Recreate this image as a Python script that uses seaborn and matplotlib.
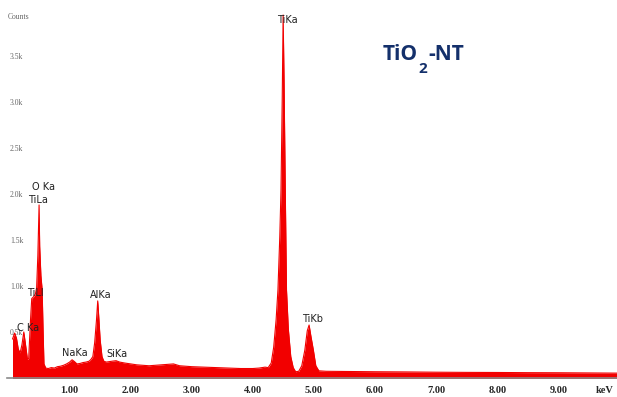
import matplotlib
matplotlib.use("Agg")
import matplotlib.pyplot as plt
import seaborn as sns
import pandas as pd

# EDS spectrum (keV, counts)
energy = [0.065, 0.10, 0.13, 0.16, 0.19, 0.22, 0.25, 0.28, 0.31, 0.33, 0.36, 0.38,
          0.41, 0.44, 0.46, 0.48, 0.50, 0.51, 0.53, 0.55, 0.565, 0.58, 0.61,
          0.65, 0.70, 0.75, 0.80, 0.85, 0.90, 0.95, 1.00, 1.04, 1.08, 1.12, 1.17,
          1.22, 1.27, 1.32, 1.35, 1.38, 1.41, 1.44, 1.46, 1.48, 1.50, 1.53, 1.56,
          1.60, 1.65, 1.70, 1.76, 1.82, 1.90, 2.00, 2.10, 2.20, 2.30, 2.40, 2.50,
          2.60, 2.70, 2.80, 2.90, 3.00, 3.20, 3.40, 3.60, 3.80, 4.00, 4.10, 4.20,
          4.25, 4.30, 4.34, 4.38, 4.41, 4.44, 4.46, 4.48, 4.495, 4.51, 4.53, 4.55,
          4.58, 4.62, 4.66, 4.70, 4.75, 4.80, 4.85, 4.89, 4.92, 4.95, 4.99, 5.03,
          5.08, 5.20, 5.50, 6.00, 6.50, 7.00, 7.50, 8.00, 8.50, 9.00, 9.50, 9.96]
counts = [390, 456, 400, 280, 240, 330, 467, 320, 170, 180, 600, 830,
          850, 880, 950, 1300, 1848, 1400, 1080, 930, 500, 120, 75,
          70, 80, 75, 90, 95, 105, 120, 140, 165, 145, 120, 125,
          135, 140, 150, 170, 200, 350, 600, 805, 600, 380, 200, 150,
          140, 145, 150, 155, 140, 130, 120, 110, 105, 100, 105, 110,
          115, 120, 100, 95, 90, 85, 80, 75, 70, 70, 75, 85,
          80, 130, 300, 600, 925, 1500, 2010, 3000, 3913, 3200, 2010, 925,
          500, 200, 80, 35, 40, 100, 270, 480, 543, 420, 270, 100,
          45, 40, 38, 35, 33, 30, 28, 27, 25, 24, 22, 20]

peak_names = ["O Ka", "TiLa", "TiLl", "C Ka", "NaKa", "AlKa", "SiKa", "TiKa", "TiKb"]
peak_x = [0.565, 0.483, 0.434, 0.319, 1.088, 1.514, 1.776, 4.558, 4.984]
peak_y = [2043, 1902, 891, 511, 239, 870, 228, 3859, 609]

y_ticks = [500, 1000, 1500, 2000, 2500, 3000, 3500]
y_labels = ["0.5k", "1.0k", "1.5k", "2.0k", "2.5k", "3.0k", "3.5k"]
x_ticks = [1, 2, 3, 4, 5, 6, 7, 8, 9]
x_labels = ["1.00", "2.00", "3.00", "4.00", "5.00", "6.00", "7.00", "8.00", "9.00"]

df = pd.DataFrame({"energy": energy, "counts": counts})

sns.set_style("white")
plt.rcParams["font.family"] = ["DejaVu Sans"]

fig = plt.figure(figsize=(6.17, 3.97), dpi=100)
ax = fig.add_axes([7 / 617, 19 / 397, 610 / 617, 378 / 397])

red = "#f20000"
sns.lineplot(data=df, x="energy", y="counts", color=red, lw=0.8, ax=ax)
ax.fill_between(df["energy"], df["counts"], -40, color=red, lw=0)

ax.set_xlim(-0.025, 9.96)
ax.set_ylim(-33, 4076)
ax.set_xlabel("")
ax.set_ylabel("")

for s in ["left", "top", "right"]:
    ax.spines[s].set_visible(False)
ax.spines["bottom"].set_color("#8a8a8a")
ax.spines["bottom"].set_linewidth(1.2)

ax.set_xticks(x_ticks)
ax.set_xticklabels(x_labels, fontfamily="Liberation Serif", fontweight="bold", fontsize=7.5)
ax.tick_params(axis="x", direction="inout", length=5, width=0.8, color="#555555", pad=3)

ax.set_yticks(y_ticks)
ax.set_yticklabels(y_labels, fontfamily="Liberation Serif", fontsize=5.5, color="#666666")
ax.tick_params(axis="y", direction="in", length=14, width=0.8, color="#888888", pad=-2)
for lab in ax.get_yticklabels():
    lab.set_horizontalalignment("left")
    lab.set_verticalalignment("top")

for name, px, py in zip(peak_names, peak_x, peak_y):
    ax.text(px, py, name, fontsize=7, ha="center", va="center", color="#222222")

ax.text(0.98, -0.034, "keV", transform=ax.transAxes, ha="center", va="center",
        fontfamily="Liberation Serif", fontweight="bold", fontsize=7.5)
fig.text(8 / 617, 1 - 17 / 397, "Counts", fontsize=5.5, color="#666666",
         fontfamily="Liberation Serif", va="center", ha="left")

# title with a low-set subscript
navy = "#14306b"
t1 = fig.text(383 / 617, 1 - 60 / 397, "TiO", fontsize=15, fontfamily="Open Sans",
              fontweight="bold", color=navy, ha="left", va="baseline")
t2 = ax.annotate("2", xy=(1, 0), xycoords=t1, xytext=(0.5, 2), textcoords="offset points",
                 fontsize=11, fontfamily="Open Sans", fontweight="bold", color=navy,
                 ha="left", va="top")
ax.annotate("-NT", xy=(1, 0), xycoords=(t2, t1), xytext=(0.3, 0), textcoords="offset points",
            fontsize=15, fontfamily="Open Sans", fontweight="bold", color=navy,
            ha="left", va="bottom")

fig.savefig("out.png", dpi=100)
